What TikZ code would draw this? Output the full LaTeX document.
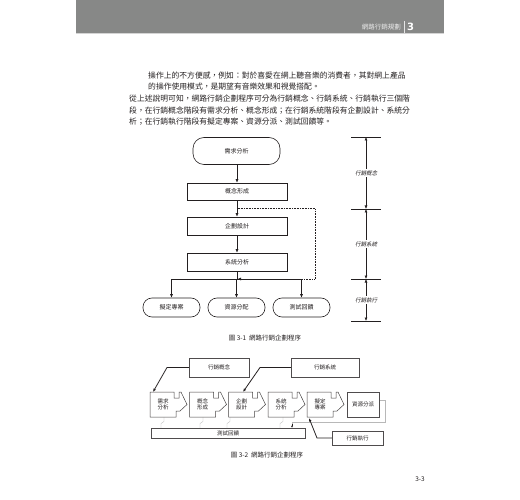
\documentclass[tikz,border=0pt]{standalone}
\usepackage{fontspec}
\setmainfont{Noto Sans CJK TC}
\newfontfamily\slcjk[FakeSlant=0.25]{Noto Sans CJK TC}
\newfontfamily\numfont{DejaVu Sans}
\usetikzlibrary{arrows.meta}
\definecolor{hdr}{HTML}{878887}
\definecolor{ink}{HTML}{231F20}
\definecolor{lite}{HTML}{B8B8B8}
\begin{document}
\begin{tikzpicture}[x=1pt,y=-1pt,
  para/.style={anchor=west, inner sep=0pt, text=ink, font=\fontsize{7.8}{9}\selectfont},
  box/.style={draw=ink, line width=0.6pt, minimum width=100pt, minimum height=17pt, inner sep=0pt, text=ink, font=\fontsize{6}{7}\selectfont},
  stad/.style={box, rounded corners=9pt},
  arr/.style={-{Latex[length=3.5pt,width=3pt]}, line width=0.6pt, draw=ink},
  ln/.style={line width=0.6pt, draw=ink},
  box2/.style={draw=ink!80, line width=0.5pt, inner sep=0pt, text=ink, font=\fontsize{5.5}{6.5}\selectfont},
  blk/.style={draw=ink!85, line width=0.5pt, fill=white},
  btxt/.style={inner sep=0pt, text=ink, align=center, font=\fontsize{5.5}{6.5}\selectfont},
  arr2/.style={-{Latex[length=3.5pt,width=2.8pt]}, line width=0.8pt, draw=ink},
  fb/.style={draw=lite, line width=0.4pt},
  captxt/.style={inner sep=0pt, text=ink, font=\fontsize{6.5}{8}\selectfont},
  sc/.style={inner sep=1pt, fill=white, text=ink, font=\slcjk\fontsize{5.5}{6.5}\selectfont}
]
\useasboundingbox (0,0) rectangle (520,500);
% header
\fill[hdr] (76,0) rectangle (444,33);
\draw[lite!60, line width=0.8pt] (76,33.2) -- (444,33.2);
\node[anchor=east, inner sep=0pt, text=white!92!black, font=\fontsize{6.5}{8}\selectfont] (ht) at (401,27) {網路行銷規劃};
\draw[white!90!black, line width=0.5pt] (404,21) -- (404,33);
\node[anchor=west, inner sep=0pt, text=white, font=\numfont\bfseries\fontsize{10}{12}\selectfont] (hn) at (407,26.5) {3};
% paragraphs
\node[para] (p1) at (148,76) {操作上的不方便感，例如：對於喜愛在網上聽音樂的消費者，其對網上產品};
\node[para] (p2) at (148,87) {的操作使用模式，是期望有音樂效果和視覺搭配。};
\node[para] (p3) at (129,99) {從上述說明可知，網路行銷企劃程序可分為行銷概念、行銷系統、行銷執行三個階};
\node[para] (p4) at (129,110.5) {段，在行銷概念階段有需求分析、概念形成；在行銷系統階段有企劃設計、系統分};
\node[para] (p5) at (129,122) {析；在行銷執行階段有擬定專案、資源分派、測試回饋等。};
% diagram 1
\node[stad, minimum width=87pt, minimum height=27pt, rounded corners=11pt] (d1) at (236.5,151) {需求分析};
\node[box] (d2) at (237,191.5) {概念形成};
\node[box, minimum height=18pt] (d3) at (237,226) {企劃設計};
\node[box, minimum height=18pt] (d4) at (237,262) {系統分析};
\node[stad, minimum width=57pt, minimum height=19pt] (e1) at (171.5,307.5) {擬定專案};
\node[stad, minimum width=57pt, minimum height=19pt] (e2) at (236.5,307.5) {資源分配};
\node[stad, minimum width=57pt, minimum height=19pt] (e3) at (301.5,307.5) {測試回饋};
\draw[arr] (d2.north |- d1.south) -- (d2.north);
\draw[arr] (d2) -- (d3);
\draw[arr] (d3) -- (d4);
\coordinate (br) at (237,279);
\draw[ln] (d4.south) -- (br);
\draw[ln] (e1.north |- br) -- (e3.north |- br);
\draw[arr] (e1.north |- br) -- (e1.north);
\draw[arr] (e2.north |- br) -- (e2.north);
\draw[arr] (e3.north |- br) -- (e3.north);
\coordinate (fbt) at (237.5,208.5);
\coordinate (fbb) at (237.5,279);
\draw[arr, densely dotted, line width=0.8pt] (fbt) -- (315,208.5) -- (315,279) -- (fbb);
% scale
\foreach \yy/\nm in {137/t1,209/t2,279/t3,321/t4} {
  \coordinate (\nm) at (366,\yy);
  \draw[ln] (351,\yy) -- (381,\yy);
}
\draw[arr, {Latex[length=3.5pt,width=3pt]}-{Latex[length=3.5pt,width=3pt]}] (t1) -- (t2);
\draw[arr, {Latex[length=3.5pt,width=3pt]}-{Latex[length=3.5pt,width=3pt]}] (t2) -- (t3);
\draw[arr, {Latex[length=3.5pt,width=3pt]}-{Latex[length=3.5pt,width=3pt]}] (t3) -- (t4);
\node[sc] (s1) at (366,173) {行銷概念};
\node[sc] (s2) at (366,244) {行銷系統};
\node[sc] (s3) at (366,300) {行銷執行};
\node[captxt] (cap1) at (265,338) {圖 3-1\ \ 網路行銷企劃程序};
% diagram 2
\node[box2, minimum width=60pt, minimum height=19pt] (c1) at (219,367.5) {行銷概念};
\node[box2, minimum width=68pt, minimum height=19pt] (c2) at (325,367.5) {行銷系統};
\node[box2, minimum width=51pt, minimum height=14pt] (c3) at (357.5,438) {行銷執行};
\node[box2, minimum width=154pt, minimum height=10pt] (bar) at (228,433) {測試回饋};
% feedback lines
\foreach \xx in {161,200,227,280} {
  \draw[fb] (\xx,428) -- (\xx,423.5) -- (\xx+3,421.5) -- (\xx+3,417);
}
\coordinate (fbk) at (292,424);
\draw[fb] (379,400) -- (385,400) -- (385,422) -- (292,422) -- (fbk);
\draw[-{Latex[length=2pt,width=2pt]}, draw=ink, line width=0.5pt] (fbk) -- (bar.north -| fbk);
% chevron blocks
\foreach \x in {150,189.5,228.5,268,307} {
  \draw[blk] (\x,392) -- (\x+24,392) -- (\x+24,398) -- (\x+29,398) -- (\x+29,392) -- (\x+31,392)
    -- (\x+37,404.5) -- (\x+30,411) -- (\x+26,411) -- (\x+26,417) -- (\x,417) -- cycle;
}
\node[btxt] (b1) at (163,404.5) {需求\\分析};
\node[btxt] (b2) at (202.5,404.5) {概念\\形成};
\node[btxt] (b3) at (241.5,404.5) {企劃\\設計};
\node[btxt] (b4) at (281,404.5) {系統\\分析};
\node[btxt] (b5) at (320,404.5) {擬定\\專案};
\node[box2, minimum width=32pt, minimum height=25pt] (b6) at (363,404.5) {資源分派};
\coordinate (k1) at (153,392);
\coordinate (k3) at (243,392);
\coordinate (k5) at (309,418);
\draw[arr2] (c1.west) -- (167,367.5) -- (k1);
\draw[arr2] (c2.west) -- (260,367.5) -- (k3);
\draw[arr2] (c3.west) -- (317,438) -- (k5);
\node[captxt] (cap2) at (267,455) {圖 3-2\ \ 網路行銷企劃程序};
\node[captxt] (pg) at (420,479) {3-3};
\end{tikzpicture}
\end{document}
